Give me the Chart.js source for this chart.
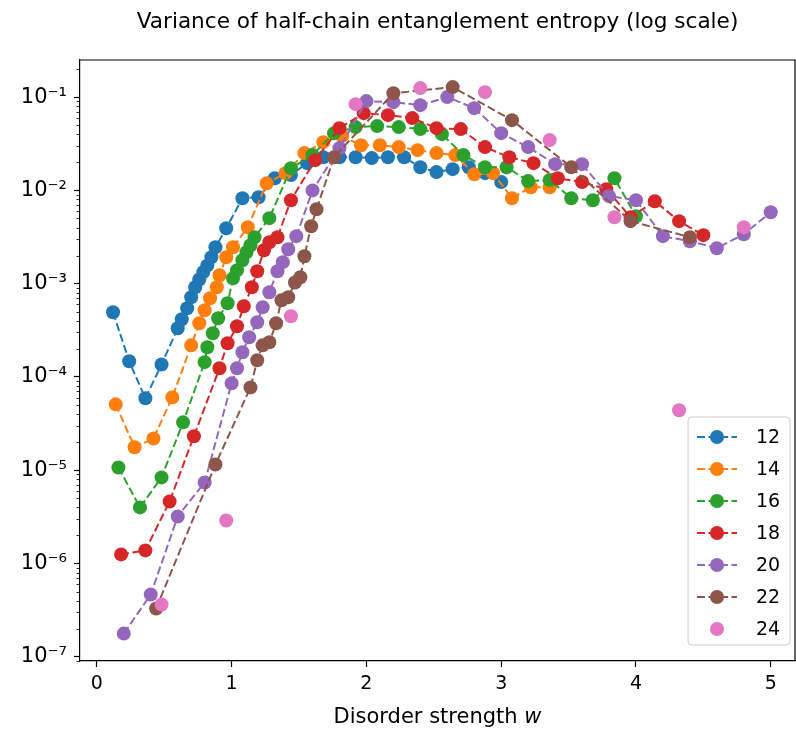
<!DOCTYPE html>
<html>
<head>
<meta charset="utf-8">
<script src="https://cdn.jsdelivr.net/npm/chart.js@4.4.1/dist/chart.umd.min.js"></script>
<style>
  body { margin: 0; background: #fff; }
</style>
</head>
<body>
<canvas id="entropy" width="796" height="732"></canvas>
<script>
// system sizes L and their colours (matplotlib tab10)
var sizes = ['12', '14', '16', '18', '20', '22', '24'];
var colors = ['#1f77b4', '#ff7f0e', '#2ca02c', '#d62728', '#9467bd', '#8c564b', '#e377c2'];

var xTicks = [0, 1, 2, 3, 4, 5];
var titleText = 'Variance of half-chain entanglement entropy (log scale)';

// disorder strength w and variance of the half-chain entropy, one pair per L
var w12 = [0.12, 0.24, 0.36, 0.48, 0.60, 0.63, 0.67, 0.70, 0.73, 0.76, 0.79, 0.82, 0.85, 0.88,
  0.96, 1.08, 1.20, 1.32, 1.44, 1.56, 1.68, 1.80, 1.92, 2.04, 2.16, 2.28, 2.40, 2.52, 2.64, 2.76, 2.88, 3.00];
var var12 = [4.93e-4, 1.47e-4, 5.9e-5, 1.36e-4, 3.32e-4, 4.15e-4, 5.45e-4, 7.15e-4, 9.15e-4, 1.11e-3, 1.33e-3, 1.57e-3, 1.92e-3, 2.46e-3,
  3.93e-3, 8.25e-3, 8.45e-3, 1.35e-2, 1.46e-2, 1.96e-2, 2.27e-2, 2.27e-2, 2.27e-2, 2.22e-2, 2.27e-2, 2.27e-2, 1.77e-2, 1.57e-2, 1.69e-2, 1.77e-2, 1.53e-2, 1.23e-2];

var w14 = [0.14, 0.28, 0.42, 0.56, 0.70, 0.76, 0.80, 0.84, 0.89, 0.91, 0.96, 1.01,
  1.12, 1.26, 1.40, 1.54, 1.68, 1.82, 1.96, 2.10, 2.24, 2.38, 2.52, 2.66, 2.80, 2.94, 3.08, 3.22, 3.36];
var var14 = [5.08e-5, 1.76e-5, 2.19e-5, 6.04e-5, 2.18e-4, 3.76e-4, 5.19e-4, 6.97e-4, 9.15e-4, 1.23e-3, 1.92e-3, 2.46e-3,
  4.03e-3, 1.19e-2, 1.53e-2, 2.51e-2, 3.29e-2, 3.82e-2, 3.05e-2, 3.05e-2, 2.91e-2, 2.70e-2, 2.51e-2, 2.39e-2, 1.49e-2, 1.53e-2, 8.25e-3, 1.08e-2, 1.08e-2];

var w16 = [0.16, 0.32, 0.48, 0.64, 0.80, 0.82, 0.86, 0.90, 0.97, 1.01, 1.04, 1.08, 1.11, 1.14, 1.17,
  1.28, 1.44, 1.60, 1.76, 1.92, 2.08, 2.24, 2.40, 2.56, 2.72, 2.88, 3.04, 3.20, 3.36, 3.52, 3.68, 3.84, 4.00];
var var16 = [1.07e-5, 3.99e-6, 8.37e-6, 3.26e-5, 1.44e-4, 2.08e-4, 2.94e-4, 4.26e-4, 6.17e-4, 1.14e-3, 1.39e-3, 1.78e-3, 2.17e-3, 2.58e-3, 3.15e-3,
  5.04e-3, 1.73e-2, 2.39e-2, 4.11e-2, 4.77e-2, 4.89e-2, 4.77e-2, 4.54e-2, 4.01e-2, 2.39e-2, 1.77e-2, 1.77e-2, 1.26e-2, 1.29e-2, 8.25e-3, 7.85e-3, 1.35e-2, 5.29e-3];

var w18 = [0.18, 0.36, 0.54, 0.72, 0.91, 0.97, 1.04, 1.09, 1.15, 1.19, 1.24, 1.28, 1.34,
  1.44, 1.62, 1.80, 1.98, 2.16, 2.34, 2.52, 2.70, 2.88, 3.06, 3.24, 3.42, 3.60, 3.78, 3.96, 4.14, 4.32, 4.50];
var var18 = [1.25e-6, 1.38e-6, 4.62e-6, 2.31e-5, 1.24e-4, 2.30e-4, 3.49e-4, 5.73e-4, 9.15e-4, 1.36e-3, 2.28e-3, 2.78e-3, 3.15e-3,
  7.85e-3, 2.11e-2, 4.65e-2, 6.73e-2, 6.41e-2, 5.96e-2, 4.65e-2, 4.54e-2, 2.91e-2, 2.27e-2, 1.96e-2, 1.35e-2, 1.23e-2, 1.03e-2, 5.16e-3, 7.66e-3, 4.68e-3, 3.31e-3];

var w20 = [0.2, 0.4, 0.6, 0.8, 1.00, 1.04, 1.08, 1.13, 1.19, 1.23, 1.28, 1.34, 1.38, 1.42, 1.48,
  1.6, 1.8, 2.0, 2.2, 2.4, 2.6, 2.8, 3.0, 3.2, 3.4, 3.6, 3.8, 4.0, 4.2, 4.4, 4.6, 4.8, 5.0];
var var20 = [1.77e-7, 4.65e-7, 3.19e-6, 7.39e-6, 8.53e-5, 1.24e-4, 1.84e-4, 2.66e-4, 3.85e-4, 5.58e-4, 8.09e-4, 1.36e-3, 1.70e-3, 2.34e-3, 3.23e-3,
  1.00e-2, 2.84e-2, 9.06e-2, 8.83e-2, 8.20e-2, 0.100, 7.62e-2, 4.11e-2, 2.91e-2, 1.91e-2, 1.91e-2, 8.67e-3, 7.85e-3, 3.23e-3, 2.85e-3, 2.40e-3, 3.39e-3, 5.83e-3];

var w22 = [0.44, 0.88, 1.14, 1.19, 1.23, 1.28, 1.33, 1.37, 1.42, 1.47, 1.51, 1.54, 1.59, 1.63,
  1.76, 2.20, 2.64, 3.08, 3.52, 3.96, 4.40];
var var22 = [3.29e-7, 1.15e-5, 7.72e-5, 1.51e-4, 2.18e-4, 2.35e-4, 3.76e-4, 6.63e-4, 7.15e-4, 1.03e-3, 1.17e-3, 1.97e-3, 4.13e-3, 6.28e-3,
  2.27e-2, 0.110, 0.128, 5.66e-2, 1.77e-2, 4.68e-3, 3.15e-3];

var w24 = [0.48, 0.96, 1.44, 1.92, 2.40, 2.88, 3.36, 3.84, 4.32, 4.80];
var var24 = [3.63e-7, 2.89e-6, 4.47e-4, 8.41e-2, 0.125, 0.113, 3.46e-2, 5.16e-3, 4.39e-5, 4.03e-3];

var wSeries = [w12, w14, w16, w18, w20, w22, w24];
var varSeries = [var12, var14, var16, var18, var20, var22, var24];

var FONT = 'DejaVu Sans';

function isDecade(v) {
    var e = Math.log10(v);
    return Math.abs(e - Math.round(e)) < 1e-9;
}

function powLabel(v) {
    var sup = {'-': '\u207B', '0': '\u2070', '1': '\u00B9', '2': '\u00B2', '3': '\u00B3',
               '4': '\u2074', '5': '\u2075', '6': '\u2076', '7': '\u2077', '8': '\u2078', '9': '\u2079'};
    var e = String(Math.round(Math.log10(v)));
    var s = '';
    for (var i = 0; i < e.length; i++) s += sup[e[i]];
    return '10' + s;
}

var datasets = [];
for (var k = 0; k < sizes.length; k++) {
    var pts = [];
    for (var i = 0; i < wSeries[k].length; i++) {
        pts.push({x: wSeries[k][i], y: varSeries[k][i]});
    }
    datasets.push({
        label: sizes[k],
        data: pts,
        order: sizes.length - k,
        showLine: k < 6,
        borderColor: colors[k],
        backgroundColor: colors[k],
        borderWidth: 2,
        borderDash: [8, 3.5],
        pointRadius: 7,
        pointBorderWidth: 0,
        pointBackgroundColor: colors[k],
        fill: false
    });
}

// title over the axes, top/right spines, minor ticks, x label with italic w, legend box
var decorations = {
    id: 'decorations',
    afterDraw: function(chart) {
        var ctx = chart.ctx;
        var a = chart.chartArea;
        var ys = chart.scales.y;
        var cx = (a.left + a.right) / 2;
        ctx.save();

        ctx.fillStyle = '#000';
        ctx.textBaseline = 'middle';
        ctx.textAlign = 'center';
        ctx.font = '21.6px "' + FONT + '"';
        ctx.fillText(titleText, cx, 22);

        ctx.strokeStyle = '#000';
        ctx.lineWidth = 1.2;
        ctx.beginPath();
        ctx.moveTo(a.left, a.top);
        ctx.lineTo(a.right, a.top);
        ctx.lineTo(a.right, a.bottom);
        ctx.stroke();

        ctx.lineWidth = 0.8;
        ys.ticks.forEach(function(t) {
            if (isDecade(t.value)) return;
            var py = Math.round(ys.getPixelForValue(t.value)) + 0.5;
            ctx.beginPath();
            ctx.moveTo(a.left, py);
            ctx.lineTo(a.left - 3.5, py);
            ctx.stroke();
        });

        // x axis label
        ctx.textAlign = 'left';
        ctx.font = '21px "' + FONT + '"';
        var part1 = 'Disorder strength ';
        var w1 = ctx.measureText(part1).width;
        ctx.font = 'italic 21px "' + FONT + '"';
        var w2 = ctx.measureText('w').width;
        var x0 = cx - (w1 + w2) / 2;
        ctx.font = '21px "' + FONT + '"';
        ctx.fillText(part1, x0, 718);
        ctx.font = 'italic 21px "' + FONT + '"';
        ctx.fillText('w', x0 + w1, 718);

        // legend
        var bx = a.right - 107, by = a.bottom - 244, bw = 102, bh = 228, r = 4;
        ctx.beginPath();
        ctx.moveTo(bx + r, by);
        ctx.arcTo(bx + bw, by, bx + bw, by + bh, r);
        ctx.arcTo(bx + bw, by + bh, bx, by + bh, r);
        ctx.arcTo(bx, by + bh, bx, by, r);
        ctx.arcTo(bx, by, bx + bw, by, r);
        ctx.closePath();
        ctx.fillStyle = 'rgba(255,255,255,0.8)';
        ctx.fill();
        ctx.strokeStyle = '#cccccc';
        ctx.lineWidth = 1;
        ctx.stroke();

        chart.data.datasets.forEach(function(ds, i) {
            var ry = by + 20 + i * 32;
            if (ds.showLine) {
                ctx.strokeStyle = ds.borderColor;
                ctx.lineWidth = 2;
                ctx.setLineDash([8, 3.5]);
                ctx.beginPath();
                ctx.moveTo(bx + 9, ry);
                ctx.lineTo(bx + 49, ry);
                ctx.stroke();
                ctx.setLineDash([]);
            }
            ctx.fillStyle = ds.backgroundColor;
            ctx.beginPath();
            ctx.arc(bx + 29, ry, 7, 0, Math.PI * 2);
            ctx.fill();
            ctx.fillStyle = '#000';
            ctx.font = '19px "' + FONT + '"';
            ctx.fillText(ds.label, bx + 68, ry + 1);
        });
        ctx.restore();
    }
};

var ctx = document.getElementById('entropy');

var chart = new Chart(ctx, {
    type: 'scatter',
    data: { datasets: datasets },
    plugins: [decorations],
    options: {
        responsive: false,
        animation: false,
        layout: { autoPadding: false, padding: { left: 0, right: 1, top: 60, bottom: 0 } },
        plugins: {
            legend: { display: false },
            tooltip: { enabled: false },
            title: { display: false }
        },
        scales: {
            x: {
                type: 'linear',
                min: -0.125,
                max: 5.18,
                afterBuildTicks: function(s) {
                    s.ticks = xTicks.map(function(v) { return {value: v}; });
                },
                afterFit: function(s) { s.height = 71; },
                ticks: {
                    color: '#000',
                    font: { family: FONT, size: 19 },
                    padding: 6,
                    maxRotation: 0,
                    callback: function(v) { return String(v); }
                },
                grid: { drawOnChartArea: false, tickLength: 6, tickColor: '#000', tickWidth: 1.2 },
                border: { color: '#000', width: 1.2 }
            },
            y: {
                type: 'logarithmic',
                min: 9e-8,
                max: 0.25,
                afterBuildTicks: function(s) {
                    var t = [];
                    for (var e = -8; e <= 0; e++) {
                        for (var m = 1; m <= 9; m++) {
                            var v = m === 1 ? Math.pow(10, e) : m * Math.pow(10, e);
                            if (v >= s.min && v <= s.max) t.push({value: v, major: m === 1});
                        }
                    }
                    s.ticks = t;
                },
                afterFit: function(s) { s.width = 80; },
                ticks: {
                    color: '#000',
                    autoSkip: false,
                    font: { family: FONT, size: 21 },
                    padding: 7,
                    callback: function(v) { return isDecade(v) ? powLabel(v) : ''; }
                },
                grid: {
                    drawOnChartArea: false,
                    tickLength: 6,
                    tickWidth: 1.2,
                    tickColor: function(c) {
                        return c.tick && isDecade(c.tick.value) ? '#000' : 'rgba(0,0,0,0)';
                    }
                },
                border: { color: '#000', width: 1.2 }
            }
        }
    }
});
</script>
</body>
</html>
